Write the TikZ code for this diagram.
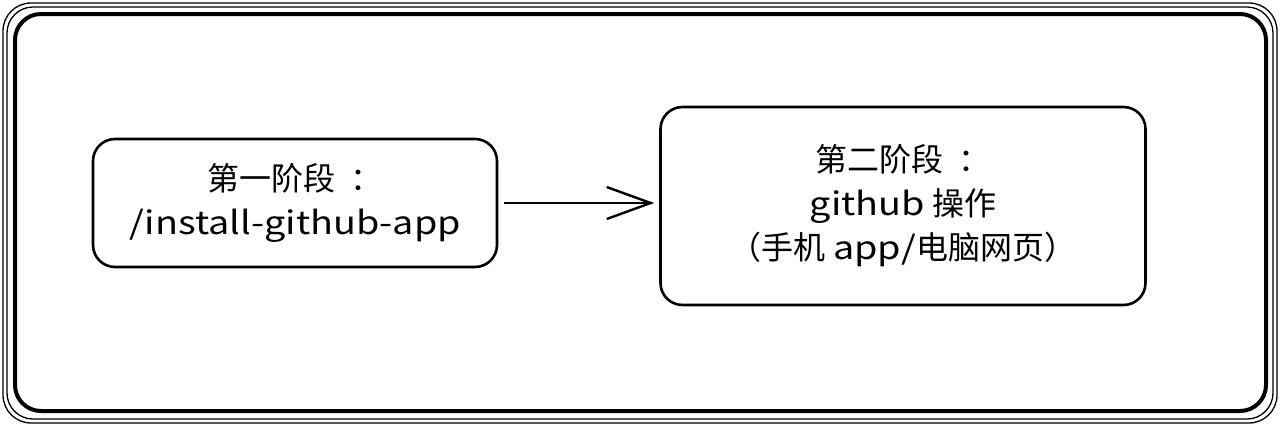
\documentclass[tikz,border=0pt]{standalone}
\usepackage{fontspec}
\setmainfont{Noto Sans CJK SC}
\newfontfamily\lat{Noto Sans CJK SC}[FakeStretch=1.18]
\usetikzlibrary{arrows.meta}
\newcommand{\cjkcolon}{\hspace{0.45em}：}
\begin{document}
\begin{tikzpicture}[x=1pt,y=-1pt,
  box/.style={draw=black,line width=2.6pt,rounded corners=22pt,align=center,
    font=\fontsize{32}{44}\selectfont,inner sep=0pt},
  conn/.style={line width=2.4pt,-{Straight Barb[length=44pt,width=32pt,line width=2.4pt]}}]
\useasboundingbox (0,0) rectangle (1280,426);
\fill[white] (0,0) rectangle (1280,426);
% outer frame
\draw[line width=1.3pt,rounded corners=28pt] (3,3) rectangle (1277,423);
\draw[line width=1.3pt,rounded corners=26pt] (7,7) rectangle (1273,419);
\draw[line width=4pt,rounded corners=26pt] (15,14) rectangle (1266,411);
% boxes
\node[box,minimum width=404pt,minimum height=128pt] (a) at (295,203)
  {第一阶段\cjkcolon\\{\lat /install-github-app}};
\node[box,minimum width=485pt,minimum height=198pt] (b) at (903,206)
  {第二阶段\cjkcolon\\{\lat github} 操作\\（手机 {\lat app/}电脑网页）};
\draw[conn,shorten <=6pt,shorten >=5pt] (a.east |- 0,203) -- (b.west |- 0,203);
\end{tikzpicture}
\end{document}
